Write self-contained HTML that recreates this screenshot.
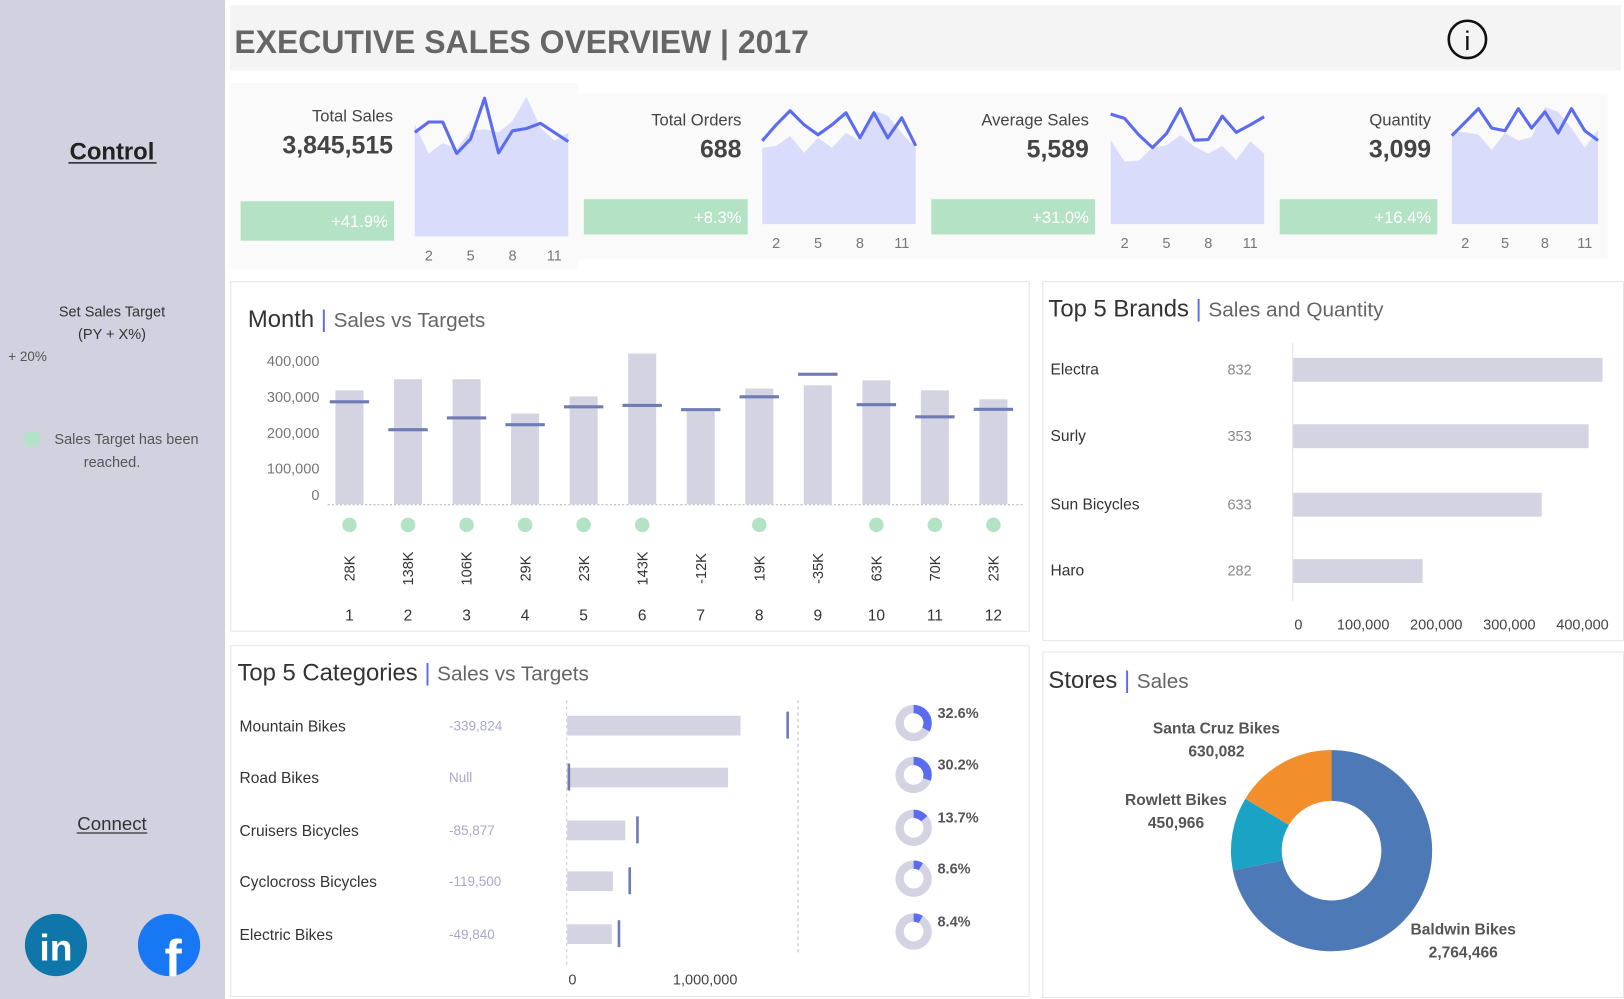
<!DOCTYPE html>
<html><head><meta charset="utf-8">
<style>
html,body{margin:0;padding:0;background:#fff;overflow:hidden}
svg{display:block;font-family:"Liberation Sans",sans-serif}
</style></head>
<body>
<svg id="root" width="1624" height="999" viewBox="0 0 1566 963" preserveAspectRatio="none" xmlns="http://www.w3.org/2000/svg">
<rect x="0" y="0" width="1566" height="963" fill="#ffffff"/>
<g>
<rect x="0" y="0" width="217" height="963" fill="#d1d1e0"/>
<text x="108" y="154" text-anchor="middle" font-size="23" font-weight="bold" fill="#222">Control</text>
<line x1="66" y1="157" x2="151" y2="157" stroke="#222" stroke-width="1.5"/>
<text x="108" y="305" text-anchor="middle" font-size="14" fill="#333">Set Sales Target</text>
<text x="108" y="327" text-anchor="middle" font-size="14" fill="#333">(PY + X%)</text>
<text x="8" y="348" font-size="13" fill="#555">+ 20%</text>
<circle cx="31" cy="423" r="8" fill="#b3e2c4"/>
<text x="122" y="428" text-anchor="middle" font-size="14" fill="#555">Sales Target has been</text>
<text x="108" y="450" text-anchor="middle" font-size="14" fill="#555">reached.</text>
<text x="108" y="800" text-anchor="middle" font-size="18" fill="#333">Connect</text>
<line x1="74" y1="803" x2="142" y2="803" stroke="#333" stroke-width="1.2"/>
<g>
<circle cx="54" cy="911" r="30" fill="#0e76a8"/>
<text x="54" y="926" text-anchor="middle" font-size="36" font-weight="bold" fill="#fff">in</text>
</g>
<g>
<circle cx="163" cy="911" r="30" fill="#1877f2"/>
<text x="167" y="941" text-anchor="middle" font-size="50" font-weight="bold" fill="#fff">f</text>
</g>
</g>
<rect x="222" y="5" width="1341" height="63" fill="#f4f4f4"/>
<text x="226" y="51" font-size="31" font-weight="bold" fill="#666" textLength="554" lengthAdjust="spacingAndGlyphs">EXECUTIVE SALES OVERVIEW | 2017</text>
<g>
<circle cx="1415" cy="38" r="18" fill="none" stroke="#111" stroke-width="2.5"/>
<text x="1415" y="48" text-anchor="middle" font-size="26" fill="#111">i</text>
</g>
<g id="kpis"></g>
<rect x="222.5" y="271.5" width="770" height="337" fill="#fff" stroke="#e6e6e6"/>
<rect x="1005.5" y="271.5" width="560" height="346" fill="#fff" stroke="#e6e6e6"/>
<rect x="222.5" y="622.5" width="770" height="338" fill="#fff" stroke="#e6e6e6"/>
<rect x="1005.5" y="628.5" width="560" height="333" fill="#fff" stroke="#e6e6e6"/>
<text x="239" y="315" font-size="23" fill="#333">Month <tspan fill="#5b6cf0">|</tspan> <tspan font-size="20" fill="#666">Sales vs Targets</tspan></text>
<text x="1011" y="305" font-size="23" fill="#333">Top 5 Brands <tspan fill="#5b6cf0">|</tspan> <tspan font-size="20" fill="#666">Sales  and Quantity</tspan></text>
<text x="229" y="656" font-size="23" fill="#333">Top 5 Categories <tspan fill="#5b6cf0">|</tspan> <tspan font-size="20" fill="#666">Sales vs Targets</tspan></text>
<text x="1011" y="663" font-size="23" fill="#333">Stores <tspan fill="#5b6cf0">|</tspan> <tspan font-size="20" fill="#666">Sales</tspan></text>
<g id="month"></g>
<g id="brands"></g>
<g id="cats"></g>
<g id="stores"></g>
</svg>
<script>
const kpiLabels = ["Total Sales","Total Orders","Average Sales","Quantity"];
const kpiValues = ["3,845,515","688","5,589","3,099"];
const kpiChanges = ["+41.9%","+8.3%","+31.0%","+16.4%"];
const sparkCurrent = [
  [320,352,352,255,300,425,257,325,332,348,320,292],
  [83,99,113,99,89,99,111,86,111,86,106,78],
  [338,325,275,235,278,355,258,260,332,282,305,330],
  [272,313,355,295,287,355,295,345,280,355,287,257]
];
const sparkPrior = [
  [345,255,287,270,325,330,320,355,430,335,295,318],
  [76,78,88,71,86,76,91,83,113,108,91,76],
  [258,192,195,235,242,273,238,217,240,197,255,217],
  [285,282,275,228,280,257,267,360,345,295,235,290]
];
const sparkMax = [440,120,370,370];
const sparkTicks = ["2","5","8","11"];

const months = ["1","2","3","4","5","6","7","8","9","10","11","12"];
const monthSales = [318000,349000,349000,253000,301000,421000,259000,323000,332000,346000,318000,293000];
const monthTargets = [286000,208000,241000,222000,272000,276000,264000,300000,363000,278000,244000,265000];
const monthDiffLabels = ["28K","138K","106K","29K","23K","143K","-12K","19K","-35K","63K","70K","23K"];
const monthYTicks = [0,100000,200000,300000,400000];

const brandNames = ["Electra","Surly","Sun Bicycles","Haro"];
const brandQty = ["832","353","633","282"];
const brandSales = [423000,404000,340000,177000];
const brandTicks = [0,100000,200000,300000,400000];

const catNames = ["Mountain Bikes","Road Bikes","Cruisers Bicycles","Cyclocross Bicycles","Electric Bikes"];
const catDiffs = ["-339,824","Null","-85,877","-119,500","-49,840"];
const catSales = [1256000,1165000,421000,331000,323000];
const catTargets = [1596000,10000,507000,451000,373000];
const catShare = [32.6,30.2,13.7,8.6,8.4];

const storeNames = ["Baldwin Bikes","Rowlett Bikes","Santa Cruz Bikes"];
const storeSales = [2764466,450966,630082];
const storeColors = ["#4e79b7","#1ba3c6","#f28e2b"];

const NS = "http://www.w3.org/2000/svg";
function mk(parent, tag, attrs, text){
  const e = document.createElementNS(NS, tag);
  for (const k in attrs) e.setAttribute(k, attrs[k]);
  if (text !== undefined) e.textContent = text;
  parent.appendChild(e);
  return e;
}
const fmt = v => v.toLocaleString("en-US");

const kg = document.getElementById("kpis");
const cards = [
  {bx:222,by:80,bw:335,bh:180,lx:379,ly:117,vy:148,gx:232,gy:194,gw:148,gh:38,sx:400,sy:90,sw:148,sb:228,ty:251},
  {bx:557,by:90,bw:333,bh:160,lx:715,ly:121,vy:152,gx:563,gy:192,gw:158,gh:34,sx:735,sy:100,sw:148,sb:216,ty:239},
  {bx:890,by:90,bw:335,bh:160,lx:1050,ly:121,vy:152,gx:898,gy:192,gw:158,gh:34,sx:1071,sy:100,sw:148,sb:216,ty:239},
  {bx:1225,by:90,bw:325,bh:160,lx:1380,ly:121,vy:152,gx:1234,gy:192,gw:152,gh:34,sx:1400,sy:100,sw:141,sb:216,ty:239}
];
cards.forEach((c,i)=>{
  const g = mk(kg,"g",{});
  
  
  mk(g,"rect",{x:c.bx,y:c.by,width:c.bw,height:c.bh,fill:"#fafafa"});
  const l = mk(g,"text",{x:c.lx,y:c.ly,"text-anchor":"end","font-size":16,fill:"#444"},kpiLabels[i]);
  
  
  const v = mk(g,"text",{x:c.lx,y:c.vy,"text-anchor":"end","font-size":24,"font-weight":"bold",fill:"#444"},kpiValues[i]);
  
  
  const gr = mk(g,"rect",{x:c.gx,y:c.gy,width:c.gw,height:c.gh,fill:"#b3e2c4"});
  
  
  mk(g,"text",{x:c.gx+c.gw-6,y:c.gy+c.gh/2+6,"text-anchor":"end","font-size":16,fill:"#fff"},kpiChanges[i]);
  const xs = k => c.sx + k*c.sw/11;
  const ys = val => c.sb - val/sparkMax[i]*(c.sb-c.sy);
  let d = "M"+xs(0)+","+c.sb;
  sparkPrior[i].forEach((val,k)=> d += " L"+xs(k)+","+ys(val));
  d += " L"+xs(11)+","+c.sb+" Z";
  const a = mk(g,"path",{d:d,fill:"#dadcfc"});
  
  
  const pts = sparkCurrent[i].map((val,k)=>xs(k)+","+ys(val)).join(" ");
  const pl = mk(g,"polyline",{points:pts,fill:"none",stroke:"#5b6cf0","stroke-width":3,"stroke-linejoin":"round"});
  
  
  [1,4,7,10].forEach((k,j)=>{
    const t = mk(g,"text",{x:xs(k),y:c.ty,"text-anchor":"middle","font-size":14,fill:"#777"},sparkTicks[j]);
    
    
  });
});

const mg = document.getElementById("month");
const mY = v => 486 - v/100000*34.5;
const mX = i => 337 + i*56.45;
monthYTicks.forEach(t=>{
  const lbl = mk(mg,"text",{x:308,y:(t===0?482:mY(t)+5),"text-anchor":"end","font-size":14,fill:"#777"},fmt(t));
  
  
});
mk(mg,"line",{x1:316,y1:486.5,x2:988,y2:486.5,stroke:"#bbb","stroke-dasharray":"2,2"});
months.forEach((m,i)=>{
  const b = mk(mg,"rect",{x:mX(i)-13.5,y:mY(monthSales[i]),width:27,height:486-mY(monthSales[i]),fill:"#d3d3e1"});
  
  
  const tl = mk(mg,"rect",{x:mX(i)-19,y:mY(monthTargets[i])-1.5,width:38,height:3,fill:"#6f7bb3"});
  
  
  if (monthSales[i] > monthTargets[i]) {
    const dot = mk(mg,"circle",{cx:mX(i),cy:506,r:7,fill:"#b3e2c4"});
    
    
  }
  const dl = mk(mg,"text",{x:0,y:0,transform:"translate("+(mX(i)+5)+",548) rotate(-90)","text-anchor":"middle","font-size":14,fill:"#333"},monthDiffLabels[i]);
  
  
  const ml = mk(mg,"text",{x:mX(i),y:598,"text-anchor":"middle","font-size":15,fill:"#333"},m);
  
  
});

const bg = document.getElementById("brands");
const bX = v => 1247 + v/100000*70.5;
const bRowY = [356,420,486,550];
mk(bg,"line",{x1:1246.5,y1:330,x2:1246.5,y2:580,stroke:"#e3e3e3"});
brandNames.forEach((n,i)=>{
  const t = mk(bg,"text",{x:1013,y:bRowY[i]+5,"font-size":15,fill:"#333"},n);
  
  
  const q = mk(bg,"text",{x:1207,y:bRowY[i]+5,"text-anchor":"end","font-size":14,fill:"#888"},brandQty[i]);
  
  
  const r = mk(bg,"rect",{x:1247,y:bRowY[i]-11,width:bX(brandSales[i])-1247,height:23,fill:"#d3d3e1"});
  
  
});
brandTicks.forEach(t=>{
  const x = t===0 ? 1252 : bX(t)-3;
  const e = mk(bg,"text",{x:x,y:607,"text-anchor":"middle","font-size":14,fill:"#444"},fmt(t));
  
  
});

const cg = document.getElementById("cats");
const cX = v => 547 + v/1000000*133;
const cRowY = [699,749,800,849,900];
mk(cg,"line",{x1:546.5,y1:675,x2:546.5,y2:930,stroke:"#ccc","stroke-dasharray":"3,3"});
mk(cg,"line",{x1:769.5,y1:675,x2:769.5,y2:920,stroke:"#bbb","stroke-dasharray":"3,3"});
catNames.forEach((n,i)=>{
  const y = cRowY[i];
  const t = mk(cg,"text",{x:231,y:y+6,"font-size":15,fill:"#333"},n);
  
  
  const d = mk(cg,"text",{x:433,y:y+5,"font-size":13,fill:"#a6a8cc"},catDiffs[i]);
  
  
  const b = mk(cg,"rect",{x:547,y:y-9,width:cX(catSales[i])-547,height:19,fill:"#d3d3e1"});
  
  
  const tl = mk(cg,"rect",{x:cX(catTargets[i])-1,y:y-13,width:2.5,height:26,fill:"#6f7bb3"});
  
  
  const cx=881, cy=y-2, R=13.5;
  const don = mk(cg,"circle",{cx:cx,cy:cy,r:R,fill:"none",stroke:"#d3d3e1","stroke-width":8});
  
  
  const circ = 2*Math.PI*R;
  const seg = mk(cg,"circle",{cx:cx,cy:cy,r:R,fill:"none",stroke:"#5b6cf0","stroke-width":8,
    "stroke-dasharray":(catShare[i]/100*circ)+" "+circ,transform:"rotate(-90 "+cx+" "+cy+")"});
  
  
  const p = mk(cg,"text",{x:904,y:y-7,"font-size":14,"font-weight":"bold",fill:"#555"},catShare[i].toFixed(1)+"%");
  
  
});
[0,1000000].forEach(t=>{
  const e = mk(cg,"text",{x:t===0?552:cX(t),y:949,"text-anchor":"middle","font-size":14,fill:"#444"},fmt(t));
  
  
});

const sg = document.getElementById("stores");
const total = storeSales.reduce((a,b)=>a+b,0);
const Cx=1284, Cy=820, Ro=97, Ri=48;
let ang = 0;
storeSales.forEach((v,i)=>{
  const a0 = ang, a1 = ang + v/total*2*Math.PI; ang = a1;
  const p = (a,r)=>[Cx + r*Math.sin(a), Cy - r*Math.cos(a)];
  const large = (a1-a0)>Math.PI?1:0;
  const [x0,y0]=p(a0,Ro),[x1,y1]=p(a1,Ro),[x2,y2]=p(a1,Ri),[x3,y3]=p(a0,Ri);
  const path = mk(sg,"path",{d:`M${x0},${y0} A${Ro},${Ro} 0 ${large} 1 ${x1},${y1} L${x2},${y2} A${Ri},${Ri} 0 ${large} 0 ${x3},${y3} Z`,fill:storeColors[i]});
  
  
});
const storeLabelPos = [[1411,901],[1134,776],[1173,707]];
storeNames.forEach((n,i)=>{
  const [x,y]=storeLabelPos[i];
  const t = mk(sg,"text",{x:x,y:y,"text-anchor":"middle","font-size":15,"font-weight":"bold",fill:"#555"},n);
  
  
  const v = mk(sg,"text",{x:x,y:y+22,"text-anchor":"middle","font-size":15,"font-weight":"bold",fill:"#555"},fmt(storeSales[i]));
  
  
});
</script>
</body></html>
